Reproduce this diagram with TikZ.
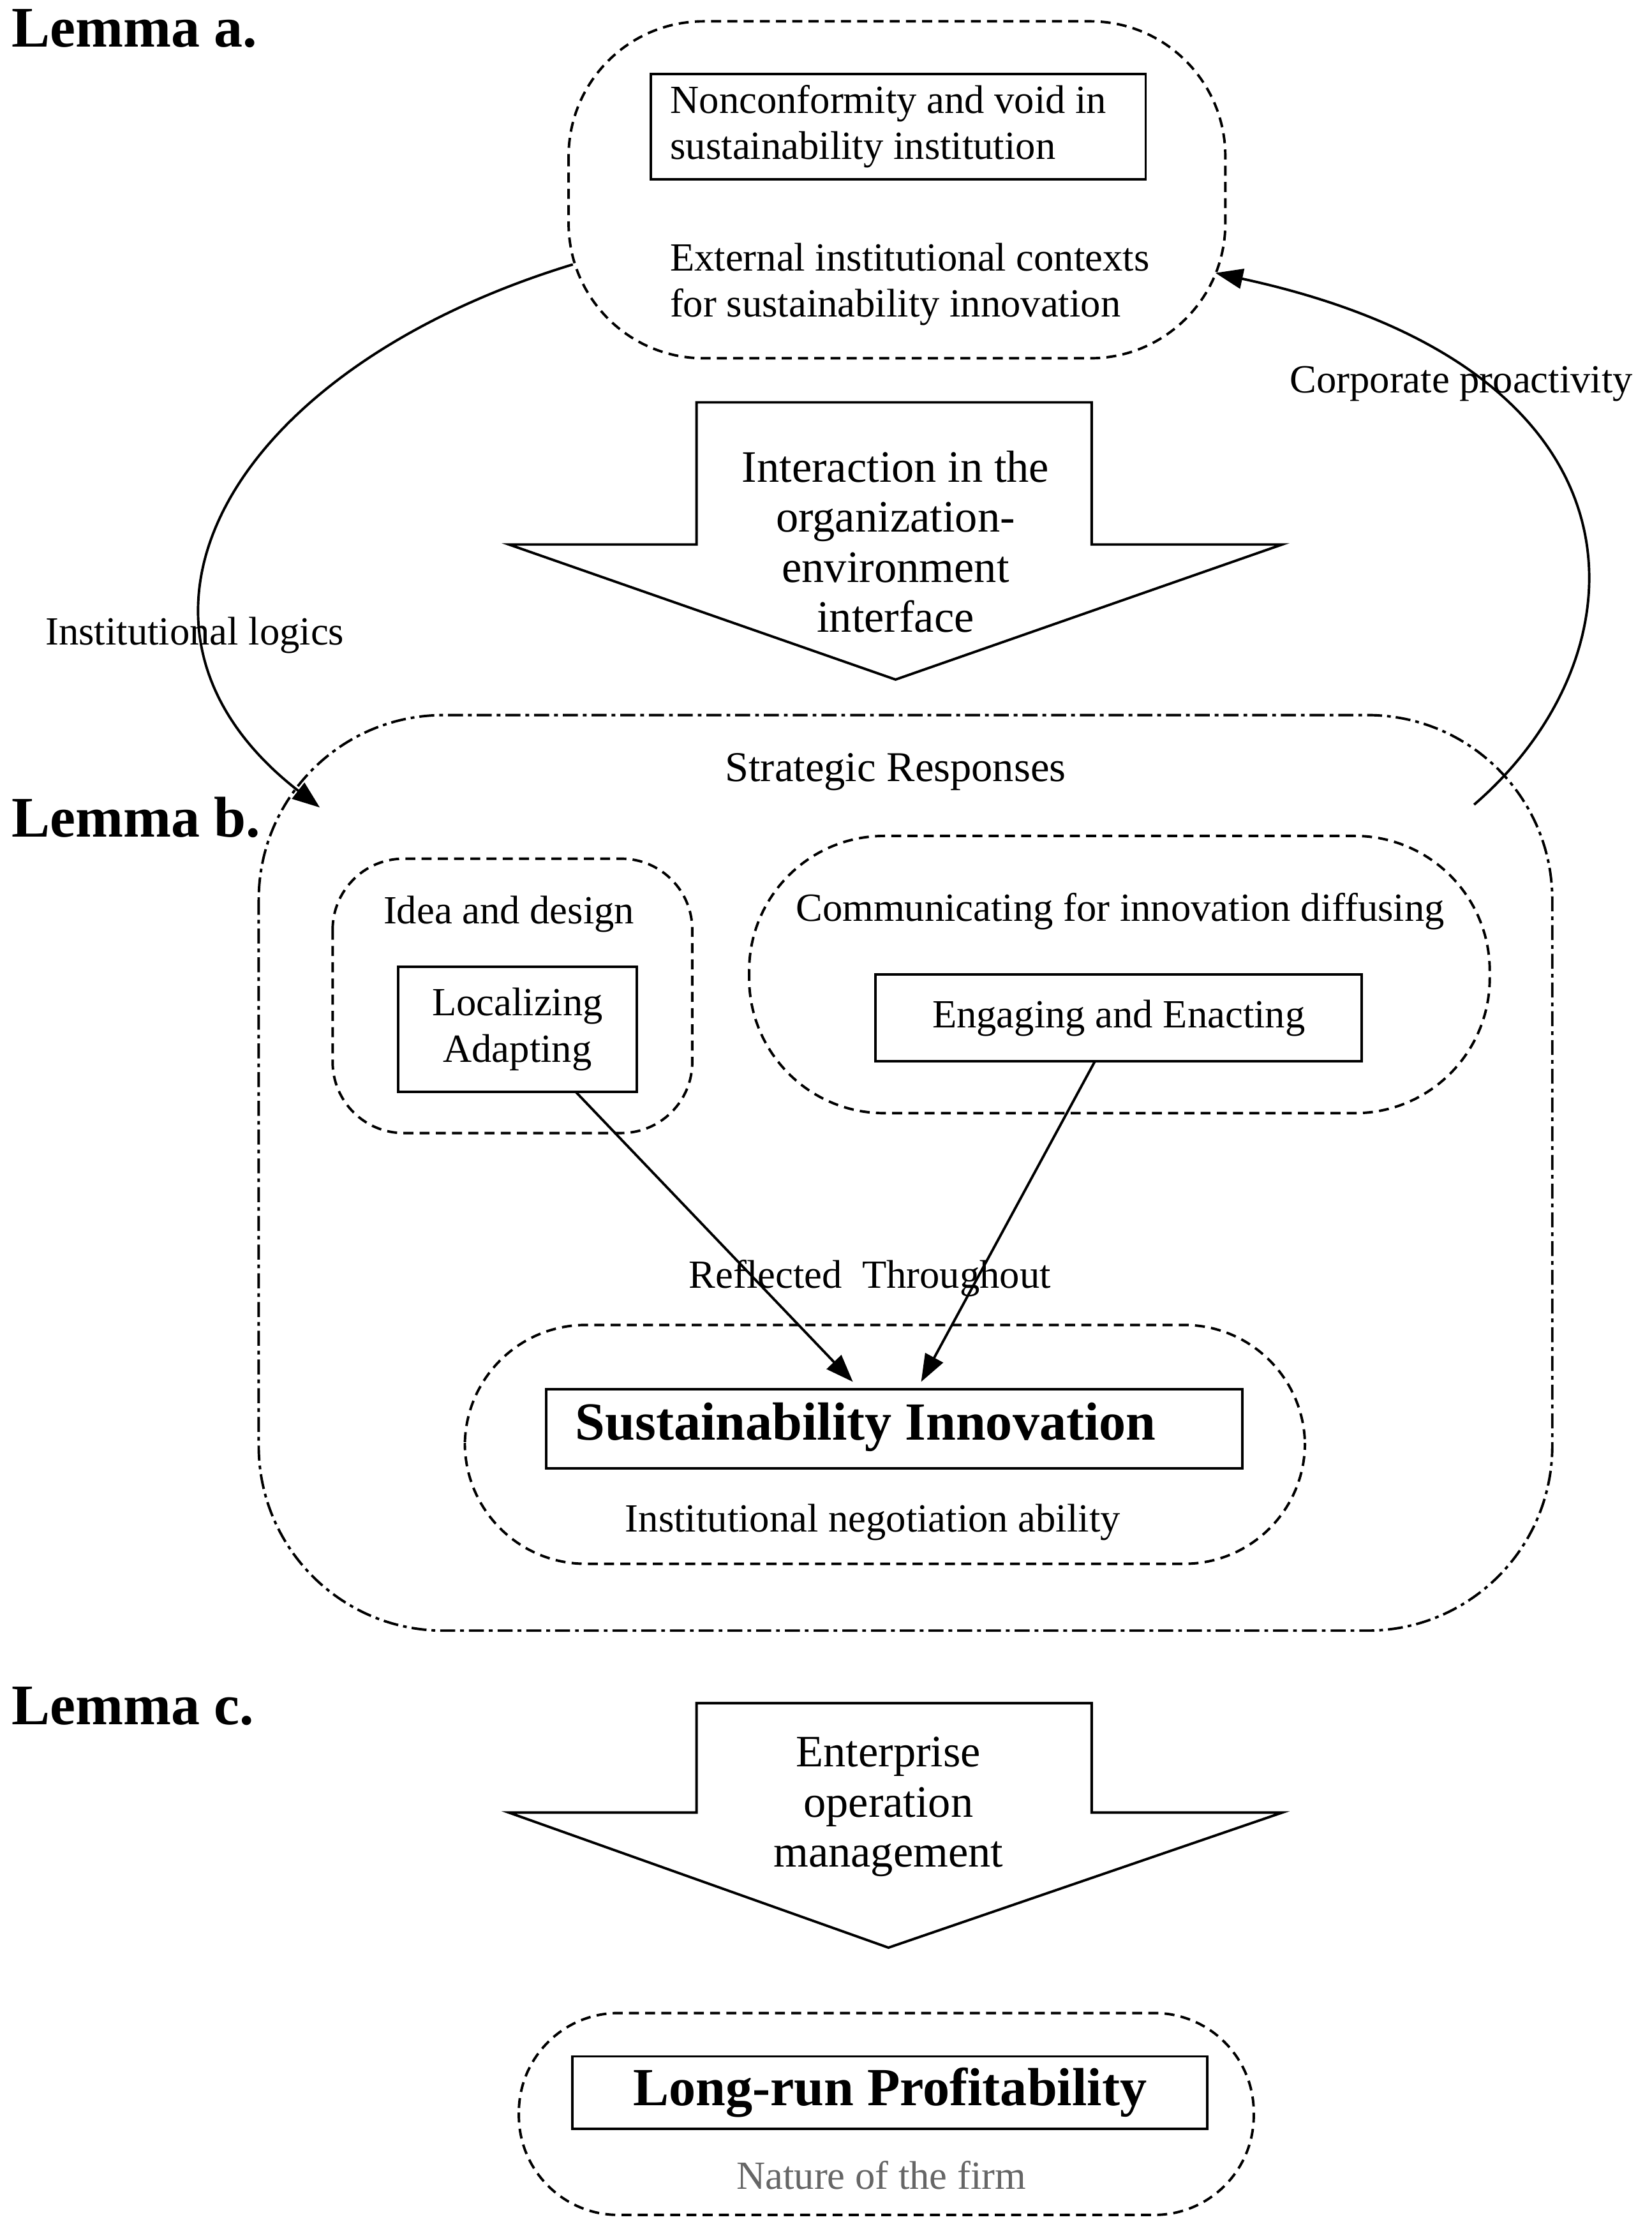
\documentclass[tikz,border=0pt]{standalone}
\usepackage{fontspec}
\setmainfont{Liberation Serif}
\usetikzlibrary{arrows.meta}
\begin{document}
\begin{tikzpicture}[x=0.02cm,y=-0.02cm,
  lw/.style={line width=1pt},
  blob/.style={lw,dash pattern=on 4pt off 2.5pt},
  dd/.style={lw,dash pattern=on 6pt off 2pt on 1.5pt off 2pt},
  box/.style={draw,lw,rectangle,inner sep=0pt},
  txt/.style={font=\fontsize{16}{18.5}\selectfont,align=center},
  big/.style={font=\fontsize{18}{20}\selectfont,align=center},
  lem/.style={font=\bfseries\fontsize{23}{26}\selectfont,anchor=west},
  arr/.style={lw,-{Triangle[length=11pt,width=8pt]}}]
\useasboundingbox (0,0) rectangle (1162,1563);
\node[lem] (la) at (2,20) {Lemma a.};
\node[lem] (lb) at (2,575) {Lemma b.};
\node[lem] (lc) at (2,1200) {Lemma c.};
% top blob
\draw[blob,rounded corners=1.9cm] (400,15) rectangle (862,252);
\node[box,minimum width=6.96cm,minimum height=1.48cm] (non) at (632,89) {};
\node[txt,align=left] at (625,89) {Nonconformity and void in\\sustainability institution};
\node[txt,align=left] (ext) at (640,200) {External institutional contexts\\for sustainability innovation};
% arrow 1
\draw[lw] (490,283) -- (768,283) -- (768,383) -- (902,383) -- (630,478) -- (358,383) -- (490,383) -- cycle;
\node[big] (ia) at (630,381) {Interaction in the\\organization-\\environment\\interface};
% lemma b box
\draw[dd,rounded corners=2.6cm] (182,503) rectangle (1092,1147);
\node[txt,font=\fontsize{17}{20}\selectfont] (sr) at (630,543) {Strategic Responses};
\draw[blob,rounded corners=1cm] (234,604) rectangle (487,797);
\node[txt] (idea) at (358,643) {Idea and design};
\node[box,minimum width=3.36cm,minimum height=1.76cm] (loc) at (364,724) {};
\node[txt] at (364,724) {Localizing\\Adapting};
\draw[blob,rounded corners=1.9cm] (527,588) rectangle (1048,783);
\node[txt] (comm) at (788,641) {Communicating for innovation diffusing};
\node[box,minimum width=6.84cm,minimum height=1.22cm,txt] (eng) at (787,716) {Engaging and Enacting};
\node[txt] (refl) at (612,899) {Reflected\ \ Throughout};
\draw[blob,rounded corners=1.7cm] (327,932) rectangle (918,1100);
\node[box,minimum width=9.8cm,minimum height=1.12cm] (si) at (629,1005) {};
\node[font=\bfseries\fontsize{21.5}{24}\selectfont] at (609,1004) {Sustainability Innovation};
\node[txt] (ina) at (614,1071) {Institutional negotiation ability};
\coordinate (s1) at (405,768);
\coordinate (e1) at (600,972);
\coordinate (s2) at (770,747);
\coordinate (e2) at (648,972);
\draw[arr] (s1) -- (e1);
\draw[arr] (s2) -- (e2);
% curves
\coordinate (c1s) at (403,186);
\coordinate (c1e) at (225,568);
\draw[arr] (c1s) .. controls (160,260) and (60,440) .. (c1e);
\node[txt] (il) at (137,447) {Institutional logics};
\coordinate (c2s) at (1037,566);
\coordinate (c2e) at (855,192);
\draw[arr] (c2s) .. controls (1160,460) and (1170,260) .. (c2e);
\node[txt] (cp) at (1028,270) {Corporate proactivity};
% arrow 2
\draw[lw] (490,1198) -- (768,1198) -- (768,1275) -- (902,1275) -- (625,1370) -- (358,1275) -- (490,1275) -- cycle;
\node[big] (eom) at (625,1271) {Enterprise\\operation\\management};
% long-run
\draw[blob,rounded corners=1.4cm] (365,1416) rectangle (882,1558);
\node[box,minimum width=8.94cm,minimum height=1.02cm] (lr) at (626,1472) {};
\node[font=\bfseries\fontsize{21.5}{24}\selectfont] at (626,1472) {Long-run Profitability};
\node[txt,text=black!60] (nf) at (620,1530) {Nature of the firm};
\end{tikzpicture}
\end{document}
